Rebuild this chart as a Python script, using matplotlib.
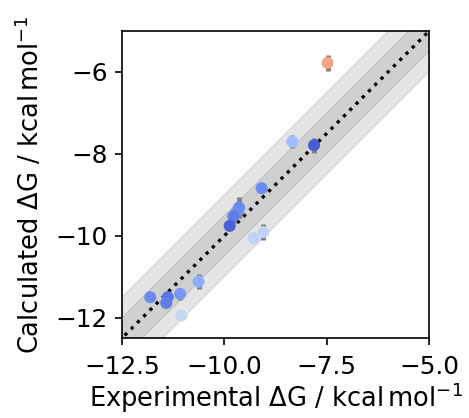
import numpy as np
import matplotlib
matplotlib.use("Agg")
import matplotlib.pyplot as plt

# Data
experimental = [-7.48, -8.34, -7.81, -9.09, -9.64, -9.66, -9.78, -9.87, -9.05, -9.29,
                -10.63, -11.08, -11.38, -11.42, -11.81, -11.05]
calculated = [-5.78, -7.70, -7.79, -8.84, -9.31, -9.38, -9.53, -9.76, -9.91, -10.06,
              -11.12, -11.42, -11.50, -11.64, -11.50, -11.95]
calc_err = [0.20, 0.15, 0.18, 0.08, 0.25, 0.12, 0.18, 0.08, 0.20, 0.05,
            0.18, 0.15, 0.08, 0.08, 0.05, 0.05]
color_values = [0.72, 0.30, 0.04, 0.15, 0.15, 0.15, 0.12, 0.05, 0.40, 0.40,
                0.25, 0.18, 0.10, 0.12, 0.15, 0.42]

axis_limits = [-12.5, -5.0]
x_ticks = [-12.5, -10.0, -7.5, -5.0]
y_ticks = [-12, -10, -8, -6]

fig = plt.figure(figsize=(4.69, 4.18), dpi=100)
ax = fig.add_axes([0.260, 0.191, 0.655, 0.735])

line = np.linspace(axis_limits[0] - 1, axis_limits[1] + 1, 10)
ax.fill_between(line, line - 1, line + 1, color='gray', alpha=0.2, zorder=0)
ax.fill_between(line, line - 0.5, line + 0.5, color='gray', alpha=0.2, zorder=0)
ax.plot(line, line, color='black', linestyle=':', linewidth=2.4, zorder=1)

ax.errorbar(experimental, calculated, yerr=calc_err, fmt='none', ecolor='gray',
            elinewidth=3.5, capsize=0, zorder=2)
cmap = plt.get_cmap('coolwarm')
ax.scatter(experimental, calculated, c=[cmap(v) for v in color_values], s=75,
           zorder=3, edgecolors='none')

ax.set_xlim(axis_limits)
ax.set_ylim(axis_limits)
ax.set_xticks(x_ticks)
ax.set_yticks(y_ticks)
ax.tick_params(labelsize=17.8, length=5, width=1.2)
ax.tick_params(axis='x', pad=7)
ax.tick_params(axis='y', pad=5)
for s in ax.spines.values():
    s.set_linewidth(1.2)
ax.set_xlabel(r'Experimental $\Delta$G / kcal$\,$mol$^{-1}$', fontsize=18.5, labelpad=1.5)
ax.set_ylabel(r'Calculated $\Delta$G / kcal$\,$mol$^{-1}$', fontsize=18.5, labelpad=8)

fig.savefig('out.png', dpi=100)
